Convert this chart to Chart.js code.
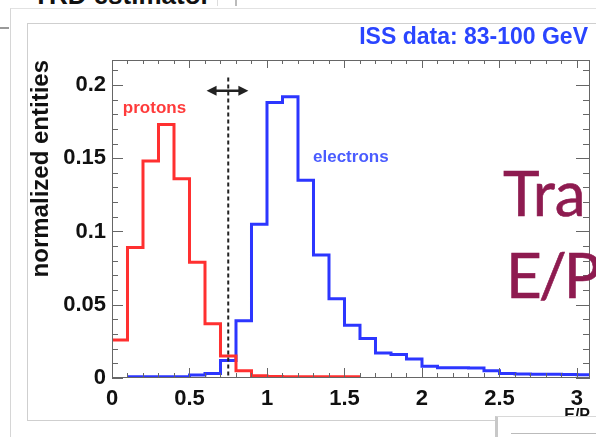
<!DOCTYPE html>
<html>
<head>
<meta charset="utf-8">
<script src="https://cdn.jsdelivr.net/npm/chart.js@4.4.1/dist/chart.umd.min.js"></script>
<style>
    html, body { margin: 0; padding: 0; background: #fff; }
    body { width: 596px; height: 437px; position: relative; overflow: hidden; font-family: "Liberation Sans", Arial, sans-serif; }
    .heading { position: absolute; left: 33px; top: -18px; font: bold 26px/26px "Liberation Sans", Arial, sans-serif; color: #111; white-space: nowrap; }
    .topSep1 { position: absolute; left: 217px; top: 0; width: 1px; height: 6px; background: #ddd; }
    .topSep2 { position: absolute; left: 235px; top: 0; width: 2px; height: 6px; background: #bbb; }
    .panel { position: absolute; left: 10px; top: 8px; right: 0; bottom: 0; border-left: 1px solid #d6d6d6; border-top: 1px solid #e2e2e2; }
    .leftMark { position: absolute; left: 0; top: 27px; width: 9px; height: 2px; background: #999; }
    .rootFrame { position: absolute; left: 27px; top: 23px; width: 580px; height: 396px; border-left: 1px solid #cfcfcf; border-top: 1px solid #cfcfcf; border-bottom: 1px solid #cfcfcf; }
    #myChart { position: absolute; left: 0; top: 0; }
    .slideLine { position: absolute; font: 400 62px/74px Lato, "Open Sans", sans-serif; color: #8e1b50; white-space: nowrap; -webkit-text-stroke: 0.6px #8e1b50; }
    .boxBottom { position: absolute; left: 495px; top: 416px; width: 101px; height: 21px; background: #fff; border-top: 1px solid #d8d8d8; border-left: 3px solid #c8c8c8; box-sizing: border-box; }
    .boxInner { position: absolute; left: 511px; top: 433px; width: 85px; height: 1px; background: #bbb; }
</style>
</head>
<body>
<div class="heading">TRD estimator</div>
<div class="topSep1"></div>
<div class="topSep2"></div>
<div class="panel"></div>
<div class="leftMark"></div>
<div class="rootFrame"></div>
<canvas id="myChart" width="596" height="437"></canvas>
<div class="slideLine" style="left:503px; top:155px;">Tra</div>
<div class="slideLine" style="left:506px; top:237px; letter-spacing:-3px;">E/P</div>
<div class="boxBottom"></div>
<div class="boxInner"></div>
<script>
// left bin edges, 0.1 wide
const binEdges = [0.0, 0.1, 0.2, 0.3, 0.4, 0.5, 0.6, 0.7, 0.8, 0.9,
                  1.0, 1.1, 1.2, 1.3, 1.4, 1.5, 1.6, 1.7, 1.8, 1.9,
                  2.0, 2.1, 2.2, 2.3, 2.4, 2.5, 2.6, 2.7, 2.8, 2.9,
                  3.0, 3.1];

const protons = [0.026, 0.089, 0.148, 0.173, 0.136, 0.079, 0.037, 0.015, 0.005, 0.0015,
                 0.001, 0.0008, 0.0008, 0.0008, 0.0008, 0.0008];

const electrons = [null, 0.0008, 0.0008, 0.0008, 0.0008, 0.002, 0.003, 0.012, 0.039, 0.105,
                   0.188, 0.192, 0.135, 0.084, 0.054, 0.036, 0.027, 0.017, 0.016, 0.013,
                   0.008, 0.007, 0.007, 0.0068, 0.005, 0.003, 0.0027, 0.0026, 0.0025, 0.0024,
                   0.0022];

const xTicks = [0, 0.5, 1, 1.5, 2, 2.5, 3];
const yTicks = [0, 0.05, 0.1, 0.15, 0.2];

const cutValue = 0.75;
const cutTop = 0.205;
const arrowFrom = 0.61;
const arrowTo = 0.88;
const arrowAt = 0.196;

const labelProtons = {text: 'protons', x: 0.07, y: 0.184};
const labelElectrons = {text: 'electrons', x: 1.297, y: 0.1505};
const titleText = 'ISS data: 83-100 GeV';

const toPoints = (values) => {
    let pts = [];
    values.forEach((v, i) => {
        if (v === null) return;
        pts.push({x: binEdges[i], y: v});
    });
    // close the last bin at its right edge
    pts.push({x: binEdges[values.length], y: pts[pts.length - 1].y});
    return pts;
};

const line = (ctx, x1, y1, x2, y2) => {
    ctx.beginPath();
    ctx.moveTo(x1, y1);
    ctx.lineTo(x2, y2);
    ctx.stroke();
};

const frameTicks = {
    id: 'frameTicks',
    afterDatasetsDraw(chart) {
        const {ctx, chartArea: a, scales: {x, y}} = chart;
        ctx.save();
        ctx.strokeStyle = '#666';
        ctx.lineWidth = 1;
        ctx.strokeRect(a.left + 0.5, a.top + 0.5, a.right - a.left - 1, a.bottom - a.top - 1);

        // x ticks every 0.1, major every 0.5
        for (let i = 0; i <= 30; i++) {
            let px = Math.round(x.getPixelForValue(i / 10)) + 0.5;
            let major = i % 5 === 0;
            line(ctx, px, a.bottom, px, a.bottom - (major ? 10 : 5));
            line(ctx, px, a.top, px, a.top + (major ? 8 : 4));
        }
        // y ticks every 0.01, major every 0.05
        for (let i = 0; i <= 21; i++) {
            let py = Math.round(y.getPixelForValue(i / 100)) + 0.5;
            let major = i % 5 === 0;
            line(ctx, a.left, py, a.left + (major ? 11 : 6), py);
            line(ctx, a.right, py, a.right - (major ? 14 : 7), py);
        }

        // cut line
        let cx = x.getPixelForValue(cutValue);
        ctx.strokeStyle = '#222';
        ctx.lineWidth = 2;
        ctx.setLineDash([4, 3]);
        line(ctx, cx, y.getPixelForValue(cutTop), cx, y.getPixelForValue(0));
        ctx.setLineDash([]);

        // double arrow
        let ay = y.getPixelForValue(arrowAt);
        let x1 = x.getPixelForValue(arrowFrom);
        let x2 = x.getPixelForValue(arrowTo);
        ctx.lineWidth = 2.5;
        line(ctx, x1 + 4, ay, x2 - 4, ay);
        ctx.fillStyle = '#222';
        ctx.beginPath();
        ctx.moveTo(x1, ay); ctx.lineTo(x1 + 10, ay - 5); ctx.lineTo(x1 + 10, ay + 5); ctx.closePath();
        ctx.fill();
        ctx.beginPath();
        ctx.moveTo(x2, ay); ctx.lineTo(x2 - 10, ay - 5); ctx.lineTo(x2 - 10, ay + 5); ctx.closePath();
        ctx.fill();

        // labels
        ctx.textBaseline = 'middle';
        ctx.textAlign = 'left';
        ctx.font = 'bold 17px "Liberation Sans", Arial, sans-serif';
        ctx.fillStyle = '#ff3b3b';
        ctx.fillText(labelProtons.text, x.getPixelForValue(labelProtons.x), y.getPixelForValue(labelProtons.y));
        ctx.fillStyle = '#4a5cff';
        ctx.fillText(labelElectrons.text, x.getPixelForValue(labelElectrons.x), y.getPixelForValue(labelElectrons.y));

        ctx.font = 'bold 23px "Liberation Sans", Arial, sans-serif';
        ctx.fillStyle = '#2a45ff';
        ctx.textAlign = 'right';
        ctx.fillText(titleText, a.right - 2, 38);
        ctx.restore();
    }
};

const tickFont = {family: '"Liberation Sans", Arial, sans-serif', size: 22, weight: 'bold'};

const config = {
    type: 'line',
    data: {
        datasets: [
            {
                label: 'protons',
                data: toPoints(protons),
                borderColor: '#ff3030',
                borderWidth: 3,
                stepped: 'before',
                pointRadius: 0,
                fill: false
            },
            {
                label: 'electrons',
                data: toPoints(electrons),
                borderColor: '#2c36ff',
                borderWidth: 3,
                stepped: 'before',
                pointRadius: 0,
                fill: false
            }
        ]
    },
    options: {
        responsive: false,
        animation: false,
        layout: {padding: {top: 60, right: 6, left: 0, bottom: 0}},
        plugins: {
            legend: {display: false},
            tooltip: {enabled: false}
        },
        scales: {
            x: {
                type: 'linear',
                min: 0,
                max: 3.084,
                grid: {display: false, drawTicks: false},
                border: {display: false},
                afterBuildTicks: (scale) => { scale.ticks = xTicks.map(v => ({value: v})); },
                afterFit: (scale) => { scale.height = 59; },
                ticks: {
                    autoSkip: false,
                    maxRotation: 0,
                    padding: 8,
                    color: '#111',
                    font: tickFont,
                    callback: (v) => String(v)
                },
                title: {
                    display: true,
                    text: 'E/P',
                    align: 'end',
                    color: '#111',
                    font: {family: '"Liberation Sans", Arial, sans-serif', size: 16, weight: 'bold'},
                    padding: {top: 0, bottom: 12}
                }
            },
            y: {
                min: 0,
                max: 0.217,
                grid: {display: false, drawTicks: false},
                border: {display: false},
                afterBuildTicks: (scale) => { scale.ticks = yTicks.map(v => ({value: v})); },
                afterFit: (scale) => { scale.width = 112; },
                ticks: {
                    padding: 6,
                    color: '#111',
                    font: tickFont,
                    callback: (v) => String(v)
                },
                title: {
                    display: true,
                    text: 'normalized entities',
                    align: 'end',
                    color: '#111',
                    font: {family: '"Liberation Sans", Arial, sans-serif', size: 24, weight: 'bold'},
                    padding: {top: 27, bottom: 0}
                }
            }
        }
    },
    plugins: [frameTicks]
};

const myChart = new Chart(document.getElementById('myChart'), config);
</script>
</body>
</html>
